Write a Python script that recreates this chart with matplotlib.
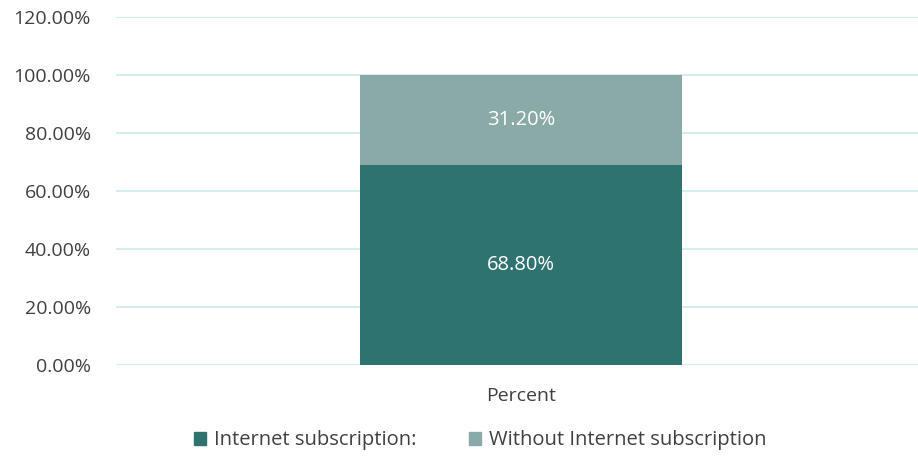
import matplotlib
matplotlib.use('Agg')
import matplotlib.pyplot as plt
from matplotlib.patches import Patch

# data
categories = ['Percent']
with_internet = [0.688]
without_internet = [0.312]
series_names = ['Internet subscription:', 'Without Internet subscription']
colors = ['#2e7370', '#8aaaa8']
yticks = [0, 0.2, 0.4, 0.6, 0.8, 1.0, 1.2]

plt.rcParams['font.family'] = ['Open Sans', 'DejaVu Sans']
text_color = '#404040'
fs = 14

fig = plt.figure(figsize=(9.18, 4.61), dpi=100)
ax = fig.add_axes([0.1264, 0.2082, 0.882, 0.7549])

x = range(len(categories))
ax.bar(x, with_internet, width=0.795, color=colors[0], zorder=3)
ax.bar(x, without_internet, bottom=with_internet, width=0.795, color=colors[1], zorder=3)

# value labels inside the segments
for i in x:
    ax.text(i, with_internet[i] / 2, f'{with_internet[i]*100:.2f}%',
            ha='center', va='center', color='white', fontsize=fs + 0.5, zorder=4)
    ax.text(i, with_internet[i] + without_internet[i] / 2, f'{without_internet[i]*100:.2f}%',
            ha='center', va='center', color='white', fontsize=fs + 0.5, zorder=4)

ax.set_xlim(-1, 1)
ax.set_ylim(0, 1.2)
ax.set_yticks(yticks)
ax.set_yticklabels([f'{t*100:.2f}%' for t in yticks])
ax.set_xticks(list(x))
ax.set_xticklabels(categories)
ax.tick_params(axis='both', length=0, labelsize=fs, labelcolor=text_color)
ax.tick_params(axis='y', pad=18)
ax.tick_params(axis='x', pad=16)

ax.grid(axis='y', color='#d3eeee', linewidth=1.5, zorder=0)
for s in ax.spines.values():
    s.set_visible(False)

handles = [Patch(color=c) for c in colors]
fig.legend(handles, series_names, loc='center', bbox_to_anchor=(0.523, 0.045),
           ncol=2, frameon=False, fontsize=fs + 0.5, labelcolor=text_color,
           handlelength=0.6, handleheight=0.6, handletextpad=0.4, columnspacing=2.6)

fig.savefig('out.png', dpi=100)
